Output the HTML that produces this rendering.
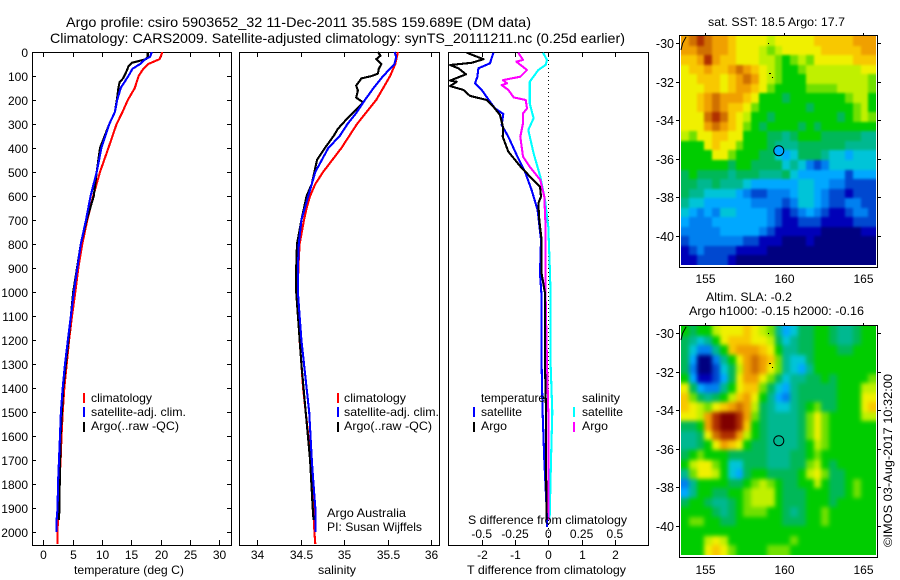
<!DOCTYPE html>
<html lang="en">
<head>
<meta charset="utf-8">
<title>Argo profile csiro 5903652_32</title>
<style>
html,body{margin:0;padding:0;background:#fff;}
svg{display:block;}
text{font-family:"Liberation Sans",sans-serif;font-size:12px;fill:#000;}
.t14{font-size:14px;}
</style>
</head>
<body>
<svg id="fig" xmlns="http://www.w3.org/2000/svg" width="900" height="580" viewBox="0 0 900 580">
  <defs>
    <filter id="soft-sst" filterUnits="userSpaceOnUse" x="660" y="20" width="240" height="260" color-interpolation-filters="sRGB">
      <feGaussianBlur stdDeviation="1.2"/>
      <feComponentTransfer><feFuncA type="linear" slope="12"/></feComponentTransfer>
    </filter>
    <filter id="soft-sla" filterUnits="userSpaceOnUse" x="660" y="310" width="240" height="260" color-interpolation-filters="sRGB">
      <feGaussianBlur stdDeviation="2"/>
      <feComponentTransfer><feFuncA type="linear" slope="12"/></feComponentTransfer>
    </filter>
    <clipPath id="clip-sst"><rect x="681" y="36" width="195" height="229"/></clipPath>
    <clipPath id="clip-sla"><rect x="681" y="326" width="195" height="229"/></clipPath>
  </defs>
  <rect x="0" y="0" width="900" height="580" fill="#fff"/>
  <g id="maps"></g>
  <g id="plots"></g>

  <text class="t14" x="66" y="27" textLength="465" lengthAdjust="spacingAndGlyphs">Argo profile: csiro 5903652_32 11-Dec-2011 35.58S 159.689E (DM data)</text>
  <text class="t14" x="50" y="43" textLength="575" lengthAdjust="spacingAndGlyphs">Climatology: CARS2009. Satellite-adjusted climatology: synTS_20111211.nc (0.25d earlier)</text>

  <text x="74" y="574" textLength="110" lengthAdjust="spacingAndGlyphs">temperature (deg C)</text>
  <text x="318" y="574" textLength="38" lengthAdjust="spacingAndGlyphs">salinity</text>
  <text x="467" y="574" textLength="159" lengthAdjust="spacingAndGlyphs">T difference from climatology</text>
  <text x="468" y="524" textLength="159" lengthAdjust="spacingAndGlyphs">S difference from climatology</text>

  <g>
    <rect x="83" y="393" width="2" height="10" fill="#f00"/>
    <rect x="83" y="407" width="2" height="10" fill="#00f"/>
    <rect x="83" y="422" width="2" height="10" fill="#000"/>
    <text x="91" y="402" textLength="61" lengthAdjust="spacingAndGlyphs">climatology</text>
    <text x="91" y="416" textLength="95" lengthAdjust="spacingAndGlyphs">satellite-adj. clim.</text>
    <text x="91" y="430" textLength="88" lengthAdjust="spacingAndGlyphs">Argo(..raw -QC)</text>
  </g>
  <g>
    <rect x="337" y="393" width="2" height="10" fill="#f00"/>
    <rect x="337" y="407" width="2" height="10" fill="#00f"/>
    <rect x="337" y="422" width="2" height="10" fill="#000"/>
    <text x="344" y="402" textLength="62" lengthAdjust="spacingAndGlyphs">climatology</text>
    <text x="344" y="416" textLength="95" lengthAdjust="spacingAndGlyphs">satellite-adj. clim.</text>
    <text x="344" y="430" textLength="88" lengthAdjust="spacingAndGlyphs">Argo(..raw -QC)</text>
  </g>
  <text x="327" y="517" textLength="79" lengthAdjust="spacingAndGlyphs">Argo Australia</text>
  <text x="327" y="531" textLength="95" lengthAdjust="spacingAndGlyphs">PI: Susan Wijffels</text>

  <g>
    <text x="481" y="402" textLength="64" lengthAdjust="spacingAndGlyphs">temperature</text>
    <rect x="473" y="407" width="2" height="10" fill="#00f"/>
    <rect x="473" y="422" width="2" height="10" fill="#000"/>
    <text x="481" y="416" textLength="41" lengthAdjust="spacingAndGlyphs">satellite</text>
    <text x="481" y="430" textLength="26" lengthAdjust="spacingAndGlyphs">Argo</text>
    <text x="582" y="402" textLength="38" lengthAdjust="spacingAndGlyphs">salinity</text>
    <rect x="573" y="407" width="2" height="10" fill="#0ff"/>
    <rect x="573" y="422" width="2" height="10" fill="#f0f"/>
    <text x="582" y="416" textLength="41" lengthAdjust="spacingAndGlyphs">satellite</text>
    <text x="582" y="430" textLength="26" lengthAdjust="spacingAndGlyphs">Argo</text>
  </g>

  <text x="708" y="26" textLength="137" lengthAdjust="spacingAndGlyphs">sat. SST: 18.5 Argo: 17.7</text>
  <text x="706" y="301" textLength="86" lengthAdjust="spacingAndGlyphs">Altim. SLA: -0.2</text>
  <text x="689" y="315" textLength="175" lengthAdjust="spacingAndGlyphs">Argo h1000: -0.15 h2000: -0.16</text>
  <text transform="translate(892,547) rotate(-90)" x="0" y="0" textLength="173" lengthAdjust="spacingAndGlyphs">©IMOS 03-Aug-2017 10:32:00</text>
</svg>

<script>
// ---------- depth profile data ----------
const depthTicks = [0,100,200,300,400,500,600,700,800,900,1000,1100,1200,1300,1400,1500,1600,1700,1800,1900,2000];
const tempTicks = [0,5,10,15,20,25,30];
const salTicks = [34,34.5,35,35.5,36];
const diffTTicks = [-2,-1,0,1,2];
const diffSTicks = [-0.5,-0.25,0,0.25,0.5];

const tempClimDepth = [0,20,30,50,75,100,150,200,250,300,400,500,600,700,800,900,1000,1100,1200,1300,1400,1500,1600,1700,1800,1900,2000,2050];
const tempClim = [20.3,20,19.8,17.9,16.9,16.25,15.6,14.4,13.5,12.5,11.1,9.66,8.5,7.5,6.65,5.97,5.45,4.9,4.4,3.98,3.58,3.3,3.1,2.95,2.73,2.6,2.4,2.4];
const tempSatDepth = [0,20,30,50,70,100,150,200,250,300,400,500,600,700,800,900,1000,1100,1200,1300,1400,1500,1600,1700,1800,1900,1950,2000];
const tempSat = [18.5,18.2,17.4,16.5,15.2,14.5,13.2,12.6,12.2,11.25,9.9,9.1,8.07,7.27,6.4,5.8,5.2,4.7,4.2,3.7,3.3,3,2.85,2.67,2.5,2.44,2.27,2.27];
const tempArgoDepth = [0,20,30,45,60,80,110,125,150,190,250,300,400,500,600,700,800,1000,1200,1400,1600,1900,1950];
const tempArgo = [17.8,17.8,17.5,15.1,14.5,14.2,13.6,13,12.8,12.6,12.2,11.25,9.66,9.1,8.6,7.4,6.4,5.1,4.3,3.4,2.95,2.73,2.7];

const salClimDepth = [0,50,100,150,200,250,300,400,500,550,600,650,700,800,900,1000,1100,1200,1300,1400,1500,1600,1700,1800,1900,2000,2050];
const salClim = [35.62,35.59,35.53,35.45,35.37,35.26,35.15,34.97,34.76,34.67,34.61,34.57,34.54,34.49,34.475,34.47,34.48,34.49,34.51,34.53,34.56,34.59,34.61,34.63,34.65,34.66,34.67];
const salSatDepth = [0,20,50,100,150,200,250,300,350,400,500,600,700,800,900,1000,1100,1200,1300,1500,1700,1800,1900,2000];
const salSat = [35.58,35.6,35.58,35.45,35.34,35.24,35.15,35.04,34.95,34.82,34.67,34.59,34.51,34.48,34.47,34.47,34.49,34.51,34.54,34.6,34.63,34.65,34.67,34.67];
const salArgoDepth = [0,15,30,50,70,90,100,110,140,160,190,210,230,250,280,320,350,400,450,500,550,600,700,800,900,1000,1300,1500,1700,1900,1950];
const salArgo = [35.39,35.42,35.37,35.43,35.4,35.39,35.32,35.2,35.14,35.16,35.14,35.22,35.17,35.11,35.03,34.93,34.88,34.78,34.69,34.66,34.63,34.57,34.51,34.46,34.45,34.45,34.51,34.56,34.61,34.64,34.65];

const dTArgoDepth = [3,30,45,54,68,93,119,124,142,158,183,200,228,262,318,353,415,475,519,561,603,631,700,783,922,1005,1100,1300,1500,1700,1950];
const dTArgo = [-2.45,-1.95,-2.3,-2.95,-2.7,-2.47,-2.95,-2.75,-2.95,-2.55,-2.35,-1.85,-1.65,-1.45,-1.35,-1.37,-1.2,-0.85,-0.55,-0.25,-0.22,-0.3,-0.27,-0.2,-0.2,-0.1,-0.1,-0.1,-0.07,-0.07,-0.05];
const dTSatDepth = [3,47,68,103,131,158,207,235,258,304,353,429,499,575,658,783,922,1019,1100,1300,1500,1700,1900,1980];
const dTSat = [-1.65,-1.75,-2.1,-2.13,-2.2,-2,-1.75,-1.6,-1.35,-1.4,-1.2,-0.95,-0.7,-0.5,-0.32,-0.22,-0.25,-0.2,-0.2,-0.2,-0.17,-0.12,-0.05,-0.04];
const dSArgoDepth = [3,33,40,75,103,117,131,138,158,189,200,235,256,297,353,436,478,533,603,728,922,1019,1300,1500,1950];
const dSArgo = [-0.225,-0.19,-0.24,-0.16,-0.21,-0.34,-0.31,-0.35,-0.3,-0.26,-0.17,-0.16,-0.19,-0.19,-0.21,-0.19,-0.14,-0.06,-0.03,-0.02,-0.02,-0.02,-0.01,0,0];
const dSSatDepth = [3,33,54,75,124,214,276,325,422,519,617,728,922,1019,1300,1500,1700,1950];
const dSSat = [-0.04,-0.01,-0.02,-0.075,-0.14,-0.14,-0.11,-0.15,-0.11,-0.06,-0.025,0,0.0125,0.017,0.017,0.03,0.02,0.01];

// ---------- map data (colour level per cell) ----------
const lonTicks = [155,160,165];
const latTicks = [-30,-32,-34,-36,-38,-40];
const coastLon = [153.82,153.6,153.5];
const coastLat = [-29.66,-30,-30.35];
const islandLon = [158.99,159.07,159.24];
const islandLat = [-30,-31.56,-31.77];
const argoLon = 159.689;
const argoLat = -35.58;
const argoSstLevel = 4;

const sstLevels = [
[13,14,15,14,13,13,12,11,11,11,11,10,11,11,11,11,11,12,12,12,12,12,13,13,13],
[13,13,14,14,13,13,12,11,11,11,10,9,10,11,11,11,11,11,12,12,12,12,12,13,13],
[12,12,13,15,13,12,12,11,11,11,10,10,9,8,9,10,9,11,11,11,11,11,12,12,12],
[11,12,12,13,12,12,13,14,13,12,11,10,9,8,8,9,10,10,10,10,10,10,10,11,11],
[11,11,12,12,12,11,12,13,14,13,11,10,9,8,8,8,10,10,10,10,10,10,10,10,9],
[11,11,11,12,12,11,12,13,13,12,11,9,8,8,8,8,9,9,9,9,10,10,10,10,9],
[11,11,12,13,14,13,13,13,12,11,8,8,8,7,8,8,8,8,8,8,8,9,10,10,8],
[11,11,12,13,14,13,12,12,11,9,8,8,8,8,8,8,7,8,8,8,8,8,9,10,8],
[11,11,11,14,15,14,12,11,10,8,8,7,8,8,8,8,8,8,8,8,7,8,9,10,9],
[11,11,11,13,14,13,12,11,9,8,7,8,8,8,8,7,8,7,8,8,8,8,8,8,8],
[10,9,11,11,12,12,11,11,8,8,8,7,7,6,7,8,8,8,7,7,7,7,7,6,6],
[8,8,8,11,12,11,11,9,8,8,8,7,6,6,6,7,7,7,7,7,7,6,6,6,6],
[8,8,8,8,11,11,9,8,8,8,7,7,5,4,5,7,7,7,6,5,5,4,5,5,5],
[8,8,8,8,8,8,7,8,8,7,7,7,7,5,6,5,3,2,3,5,5,5,5,5,5],
[7,8,7,7,7,7,6,7,7,7,6,6,6,7,5,4,4,4,4,4,4,2,4,4,4],
[7,7,6,6,7,6,6,6,5,4,4,4,4,4,4,5,5,4,4,3,3,2,2,2,2],
[7,6,6,5,5,5,5,4,3,2,2,3,3,3,4,5,5,4,3,2,2,1,2,2,2],
[6,5,5,4,4,4,4,4,4,3,3,3,3,2,3,5,5,4,3,2,2,3,3,2,2],
[5,4,3,4,3,5,5,4,4,4,4,3,2,1,2,3,4,3,2,1,1,2,3,3,2],
[4,3,3,3,4,4,4,4,4,4,4,3,2,1,1,2,2,2,1,1,1,1,2,2,2],
[3,3,3,3,3,4,4,4,4,4,3,2,1,1,1,1,1,1,0,0,0,0,0,1,1],
[2,3,3,3,3,3,3,3,2,2,1,1,1,0,0,0,1,0,0,0,0,0,0,0,0],
[1,2,3,2,2,2,2,1,1,1,1,0,0,0,0,0,0,0,0,0,0,0,0,0,0],
[1,1,2,2,2,2,1,0,0,0,0,0,0,0,0,0,0,0,0,0,0,0,0,0,0]
];
const slaLevels = [
[8,7,8,8,10,11,11,11,12,11,10,9,6,4,5,7,7,8,8,7,6,6,7,8,8],
[7,6,5,6,8,11,12,12,12,11,11,10,7,5,6,7,7,8,8,7,6,6,7,8,8],
[7,5,3,3,6,8,12,13,13,13,12,11,8,6,6,7,7,8,8,8,7,7,8,8,8],
[7,4,0,0,3,6,8,11,13,14,13,12,9,6,5,5,7,8,8,8,8,8,8,8,8],
[7,3,0,0,2,5,7,10,13,14,13,11,9,6,5,4,6,8,8,8,8,8,8,8,8],
[8,4,1,1,2,4,7,11,13,13,11,9,7,5,6,6,7,7,8,7,8,8,8,8,9],
[11,7,4,3,3,6,8,11,12,12,9,7,5,4,6,7,7,7,7,7,8,8,8,10,10],
[12,9,7,6,7,8,10,12,13,11,8,6,4,3,6,7,7,7,7,7,8,8,8,11,11],
[12,11,10,9,11,12,13,14,13,10,7,6,5,5,6,7,8,9,7,7,8,8,8,11,12],
[11,11,10,13,15,16,16,15,13,9,7,6,6,6,6,7,9,11,9,8,8,8,8,10,10],
[7,7,8,13,15,16,16,15,12,8,7,6,6,6,6,7,9,11,9,8,8,8,8,8,8],
[6,6,7,11,14,15,15,13,10,8,7,6,6,6,6,7,9,11,9,8,8,8,8,8,8],
[6,6,7,8,11,13,12,11,8,7,7,6,6,6,6,7,8,10,9,8,8,8,8,8,8],
[7,8,9,8,8,8,7,7,7,7,7,6,6,6,7,7,8,9,8,8,8,8,8,8,8],
[8,10,11,11,9,8,5,5,7,7,7,6,6,6,7,7,9,10,8,7,8,8,8,8,8],
[6,9,11,11,10,8,5,4,7,8,8,7,7,7,7,8,10,11,9,7,7,8,8,8,8],
[3,6,8,8,8,8,7,7,8,9,10,9,8,7,7,8,8,10,8,7,7,8,9,8,8],
[4,6,8,8,7,7,8,8,9,10,10,10,8,7,7,7,8,8,8,7,7,8,9,8,8],
[7,8,8,7,6,6,7,8,9,10,10,10,8,7,7,7,8,8,8,7,8,8,8,8,8],
[8,8,8,8,7,6,7,8,9,9,9,8,8,7,6,7,8,8,9,8,8,8,8,8,8],
[8,9,9,8,8,7,7,8,8,8,8,8,8,7,7,7,8,8,9,8,8,8,8,8,8],
[8,8,8,8,8,8,8,8,8,8,8,8,8,8,8,8,8,8,8,8,8,8,8,8,8],
[8,8,8,10,11,10,8,8,8,8,8,8,8,8,9,8,8,8,8,8,8,8,8,8,8],
[8,8,8,11,12,11,9,8,8,8,8,9,9,9,8,8,8,8,8,8,8,8,8,8,8]
];

// ---------- drawing ----------
const NS = 'http://www.w3.org/2000/svg';
const plots = document.getElementById('plots');
const maps = document.getElementById('maps');
const palette = ['#000080','#0000b8','#0048d0','#0080f0','#00a8ff','#00c4d8','#00b890','#00b858','#00cc00','#70e000','#c0f000','#f0f000','#f8c800','#f0a000','#d07000','#b03000','#800000'];

function y0(d){ return 52 + 0.24 * d; }
function xTemp(t){ return 43.3 + 5.867 * t; }
function xSal(s){ return 257 + 87 * (s - 34); }
function xDiffT(t){ return 548.3 + 33.3 * t; }
function xDiffS(s){ return 548.3 + 133.2 * s; }
function xLon(lon){ return 704.7 + 15.8 * (lon - 155); }
function yLat(lat, top){ return top + 19.25 * (-30 - lat); }

function make(tag, parent, attrs){
  const el = document.createElementNS(NS, tag);
  for (const k in attrs) el.setAttribute(k, attrs[k]);
  parent.appendChild(el);
  return el;
}
function line(parent, x1, y1, x2, y2, name){
  const el = make('line', parent, {x1:x1, y1:y1, x2:x2, y2:y2, stroke:'#000', 'stroke-width':1, 'shape-rendering':'crispEdges'});
  
  
  return el;
}
function label(parent, x, y, str, anchor, name){
  const el = make('text', parent, {x:x, y:y, 'text-anchor':anchor});
  el.textContent = str;
  
  
  return el;
}
function frame(parent, x, y, w, h, name){
  const el = make('rect', parent, {x:x+0.5, y:y+0.5, width:w, height:h, fill:'none', stroke:'#000', 'stroke-width':1, 'shape-rendering':'crispEdges'});
  
  
  return el;
}
function profile(xFn, depths, values, color, name){
  let pts = '';
  for (let i = 0; i < depths.length; i++) pts += xFn(values[i]).toFixed(1) + ',' + y0(depths[i]).toFixed(1) + ' ';
  const el = make('polyline', plots, {points:pts, fill:'none', stroke:color, 'stroke-width':2.1, 'shape-rendering':'crispEdges', 'stroke-linejoin':'round'});
  
  
  return el;
}

// panel frames
const top_ = 52, bot = 545;
frame(plots, 32, top_, 199, bot - top_, 'temperature-panel-frame');
frame(plots, 239, top_, 200, bot - top_, 'salinity-panel-frame');
frame(plots, 448, top_, 200, bot - top_, 'difference-panel-frame');

// depth axis
depthTicks.forEach(function(d){
  const y = Math.round(y0(d)) + 0.5;
  if (d > 0) {
    line(plots, 32, y, 36, y, 'depth-tick-left');
    line(plots, 227, y, 231, y, 'depth-tick-right');
  }
  label(plots, 28, y + 4.5, String(d), 'end', 'depth-tick-label');
});

// horizontal axes
tempTicks.forEach(function(v){
  const x = Math.round(xTemp(v)) + 0.5;
  line(plots, x, top_, x, top_ + 5, 'temperature-tick-top');
  line(plots, x, bot - 5, x, bot, 'temperature-tick-bottom');
  label(plots, x, 559, String(v), 'middle', 'temperature-tick-label');
});
salTicks.forEach(function(v){
  const x = Math.round(xSal(v)) + 0.5;
  line(plots, x, top_, x, top_ + 5, 'salinity-tick-top');
  line(plots, x, bot - 5, x, bot, 'salinity-tick-bottom');
  label(plots, x, 559, String(v), 'middle', 'salinity-tick-label');
});
diffTTicks.forEach(function(v){
  const x = Math.round(xDiffT(v)) + 0.5;
  line(plots, x, top_, x, top_ + 5, 'difference-tick-top');
  line(plots, x, bot - 5, x, bot, 'difference-tick-bottom');
  label(plots, x, 559, String(v), 'middle', 't-difference-tick-label');
});
diffSTicks.forEach(function(v){
  label(plots, xDiffS(v), 538, String(v), 'middle', 's-difference-tick-label');
});

// zero reference
const zeroLine = make('line', plots, {x1:548.5, y1:top_, x2:548.5, y2:bot, stroke:'#000', 'stroke-width':1, 'stroke-dasharray':'1 3', 'shape-rendering':'crispEdges'});



// series
profile(xTemp, tempClimDepth, tempClim, '#f00', 'temperature-climatology-line');
profile(xTemp, tempArgoDepth, tempArgo, '#000', 'temperature-argo-line');
profile(xTemp, tempSatDepth, tempSat, '#00f', 'temperature-satellite-line');
profile(xSal, salClimDepth, salClim, '#f00', 'salinity-climatology-line');
profile(xSal, salArgoDepth, salArgo, '#000', 'salinity-argo-line');
profile(xSal, salSatDepth, salSat, '#00f', 'salinity-satellite-line');
profile(xDiffS, dSSatDepth, dSSat, '#0ff', 'salinity-satellite-difference-line');
profile(xDiffS, dSArgoDepth, dSArgo, '#f0f', 'salinity-argo-difference-line');
profile(xDiffT, dTSatDepth, dTSat, '#00f', 'temperature-satellite-difference-line');
profile(xDiffT, dTArgoDepth, dTArgo, '#000', 'temperature-argo-difference-line');

// maps
const lonStart = 153.5, lonStep = 0.494, latStart = -29.62, latStep = 0.4957;
function drawMap(levels, top, frameTop, frameH, labelY, fillCircle, name, clipId, filterId){
  const g = make('g', maps, {});
  
  
  const clipG = make('g', g, {'clip-path':'url(#' + clipId + ')'});
  
  
  const cells = make('g', clipG, {filter:'url(#' + filterId + ')'});
  
  
  levels.forEach(function(row, j){
    row.forEach(function(v, i){
      const x1 = Math.round(xLon(lonStart + i * lonStep));
      const x2 = Math.round(xLon(lonStart + (i + 1) * lonStep));
      const y1 = Math.round(yLat(latStart - j * latStep, top));
      const y2 = Math.round(yLat(latStart - (j + 1) * latStep, top));
      const c = make('rect', cells, {x:x1, y:y1, width:x2 - x1, height:y2 - y1, fill:palette[v], 'shape-rendering':'crispEdges'});
      
      
    });
  });
  frame(g, 679, frameTop, 198, frameH, 'map-frame');
  lonTicks.forEach(function(lon){
    const x = Math.round(xLon(lon)) + 0.5;
    line(g, x, frameTop - 2, x, frameTop, 'longitude-tick');
    label(g, x, labelY, String(lon), 'middle', 'longitude-tick-label');
  });
  latTicks.forEach(function(lat){
    const y = Math.round(yLat(lat, top)) + 0.5;
    line(g, 676, y, 679, y, 'latitude-tick-left');
    line(g, 878, y, 881, y, 'latitude-tick-right');
    const t = label(g, 674, y + 4.5, String(lat), 'end', 'latitude-tick-label');
    t.setAttribute('style', 'font-size:12.5px');
  });
  let coast = '';
  coastLon.forEach(function(lon, i){ coast += xLon(lon).toFixed(1) + ',' + yLat(coastLat[i], top).toFixed(1) + ' '; });
  const cl = make('polyline', g, {points:coast, fill:'none', stroke:'#000', 'stroke-width':1});
  
  
  islandLon.forEach(function(lon, i){
    const d = make('rect', g, {x:Math.round(xLon(lon)), y:Math.round(yLat(islandLat[i], top)), width:i === 1 ? 2 : 1, height:1, fill:'#000', 'shape-rendering':'crispEdges'});
    
    
  });
  const circle = make('circle', g, {cx:xLon(argoLon), cy:yLat(argoLat, top), r:5, fill:fillCircle, stroke:'#000', 'stroke-width':1});
  
  
}
drawMap(sstLevels, 43.3, 35, 232, 283, palette[argoSstLevel], 'sst-map', 'clip-sst', 'soft-sst');
drawMap(slaLevels, 333.3, 325, 232, 574, 'none', 'sla-map', 'clip-sla', 'soft-sla');
</script>
</body>
</html>
